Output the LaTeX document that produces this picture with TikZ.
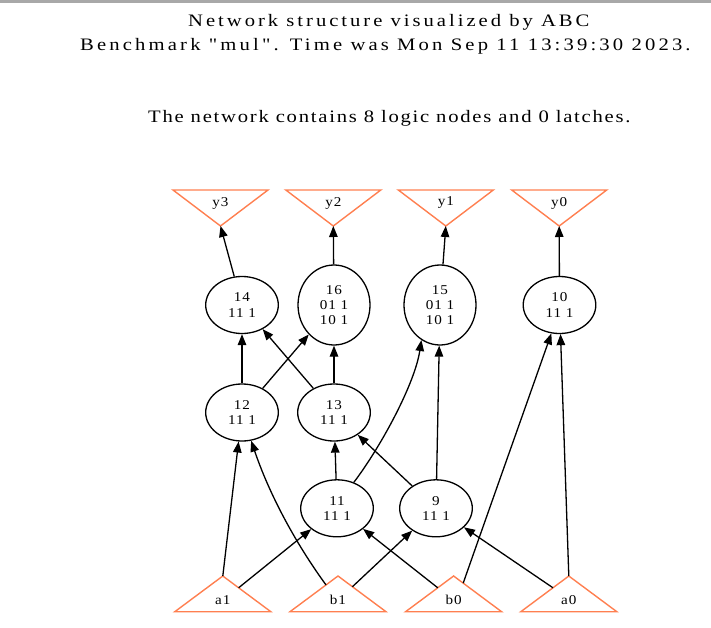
\documentclass[tikz,border=0pt]{standalone}
\usepackage{fontspec}
\setmainfont{Liberation Serif}
\newfontfamily\titlefonta[FakeStretch=1.18,LetterSpace=17]{Liberation Serif}
\newfontfamily\titlefontb[FakeStretch=1.18,LetterSpace=18]{Liberation Serif}
\newfontfamily\titlefontc[FakeStretch=1.18,LetterSpace=10]{Liberation Serif}
\newfontfamily\labfont[FakeStretch=1.12,LetterSpace=7]{Liberation Serif}
\usetikzlibrary{arrows.meta,shapes.geometric,calc}
\definecolor{coralio}{HTML}{FF7F50}
\definecolor{barg}{HTML}{A8A8A8}
\begin{document}
\begin{tikzpicture}[x=1pt,y=-1pt,
  title/.style={anchor=base west,inner sep=0pt},
  logic/.style={draw,ellipse,line width=1.3pt,inner sep=0pt,minimum width=72.6pt,minimum height=57pt,
    align=center,font=\labfont\fontsize{13.5}{15.3}\selectfont},
  logicbig/.style={logic,minimum width=72pt,minimum height=80pt},
  io/.style={draw=coralio,line width=1.4pt,line join=miter},
  iolab/.style={inner sep=0pt,font=\labfont\fontsize{13.5}{15}\selectfont},
  edge/.style={line width=1.3pt,-{Triangle[length=11pt,width=8.5pt]}}]
\useasboundingbox (0,0) rectangle (711,628);
\fill[barg] (0,0) rectangle (711,3);
% titles
\node[title,font=\titlefonta\fontsize{17.5}{20}\selectfont] (t1) at (188,26.7) {Network structure visualized by ABC};
\node[title,font=\titlefontb\fontsize{17.5}{20}\selectfont] (t2) at (80,51) {Benchmark "mul". Time was Mon Sep 11 13:39:30 2023.};
\node[title,font=\titlefontc\fontsize{17.5}{20}\selectfont] (t3) at (148,123) {The network contains 8 logic nodes and 0 latches.};
% output triangles
\foreach \n/\cx/\t in {y3/220.5/y3, y2/333.3/y2, y1/445.8/y1, y0/559.2/y0}{
  \draw[io] (\cx-47.5,190) -- (\cx+47.5,190) -- (\cx,226) -- cycle;
  \coordinate (\n) at (\cx,226);
  \node[iolab] (\n lab) at (\cx,203) {\t};
}
% input triangles
\foreach \n/\cx/\t in {a1/222.8/a1, b1/338/b1, b0/453.6/b0, a0/568.8/a0}{
  \draw[io] (\cx,576) -- (\cx+48,611.7) -- (\cx-48,611.7) -- cycle;
  \coordinate (\n) at (\cx,576);
  \coordinate (\n R) at (\cx+48,611.7);
  \coordinate (\n L) at (\cx-48,611.7);
  \node[iolab] (\n lab) at (\cx,600) {\t};
}
\coordinate (a1r) at ($(a1)!0.33!(a1R)$);
\coordinate (b1l) at ($(b1)!0.25!(b1L)$);
\coordinate (b1r) at ($(b1)!0.3!(b1R)$);
\coordinate (b0l) at ($(b0)!0.33!(b0L)$);
\coordinate (b0r) at ($(b0)!0.2!(b0R)$);
\coordinate (a0l) at ($(a0)!0.33!(a0L)$);
% logic nodes
\node[logic] (n14) at (242,305) {14\\11 1};
\node[logicbig] (n16) at (334,305) {16\\01 1\\10 1};
\node[logicbig] (n15) at (440,305) {15\\01 1\\10 1};
\node[logic] (n10) at (559.5,305) {10\\11 1};
\node[logic] (n12) at (242,412.5) {12\\11 1};
\node[logic] (n13) at (334,412.5) {13\\11 1};
\node[logic] (n11) at (337,508.3) {11\\11 1};
\node[logic] (n9) at (436,508.3) {9\\11 1};
% edges
\draw[edge] (n14) -- (y3);
\draw[edge] (n16) -- (y2);
\draw[edge] (n15) -- (y1);
\draw[edge] (n10) -- (y0);
\draw[edge] (n12) -- (n14);
\draw[edge] (n12) -- (n16);
\draw[edge] (n13) -- (n14);
\draw[edge] (n13) -- (n16);
\draw[edge] (n11) -- (n13);
\draw[edge] (n11.57) .. controls (382,445) and (415,383) .. (n15.-118);
\draw[edge] (n9) -- (n13);
\draw[edge] (n9) -- (n15);
\draw[edge] (a1) -- (n12);
\draw[edge] (b1l) .. controls (294.5,541.7) and (269,493.3) .. (n12.-72);
\draw[edge] (a1r) -- (n11);
\draw[edge] (b1r) -- (n9);
\draw[edge] (b0l) -- (n11);
\draw[edge] (b0r) .. controls (480,535) and (535,380) .. (n10.-106);
\draw[edge] (a0l) -- (n9);
\draw[edge] (a0) -- (n10);
\end{tikzpicture}
\end{document}
